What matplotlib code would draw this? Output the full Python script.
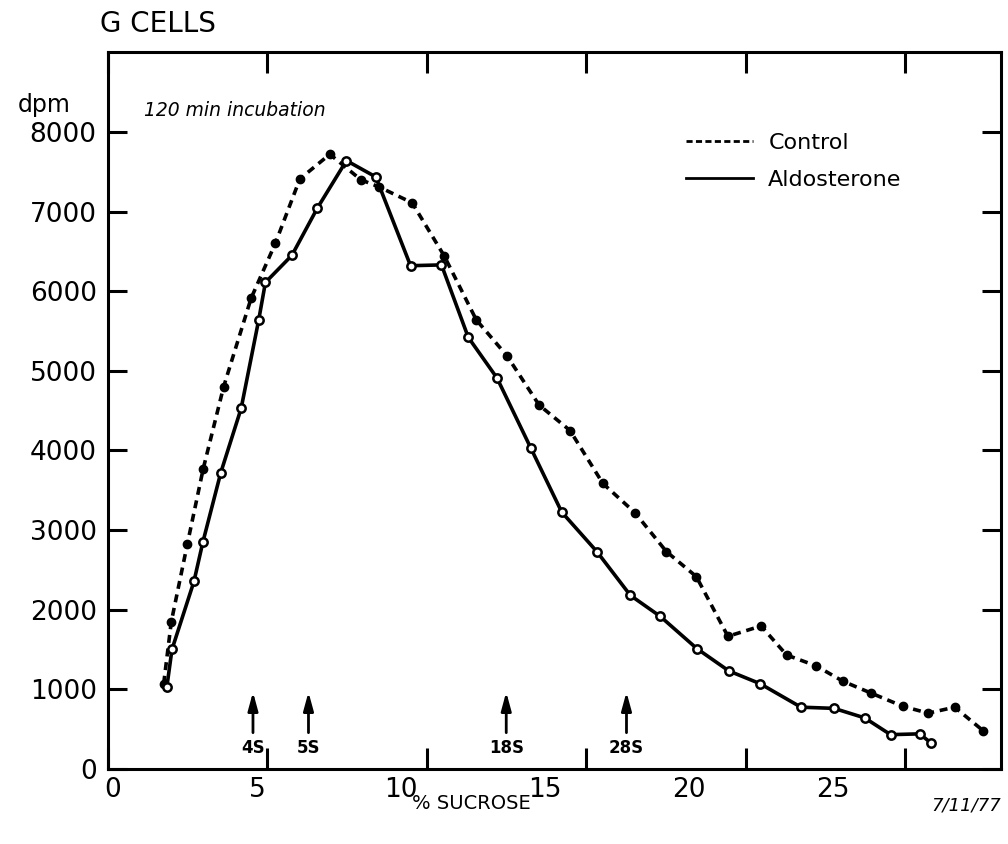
import numpy as np
import matplotlib
matplotlib.use("Agg")
import matplotlib.pyplot as plt
from matplotlib.lines import Line2D

# =========================
# DATA
# =========================
control_x = [1.75, 1.99, 2.49, 2.99, 3.63, 4.49, 5.25, 6.02, 6.96, 7.93, 8.50,
             9.54, 10.55, 11.55, 12.51, 13.52, 14.49, 15.52, 16.52, 17.51, 18.45,
             19.44, 20.48, 21.28, 22.20, 23.05, 23.94, 24.93, 25.72, 26.55, 27.44]
control_y = [1070, 1850, 2820, 3770, 4800, 5910, 6600, 7410, 7720, 7400, 7310,
             7110, 6440, 5640, 5190, 4570, 4250, 3585, 3220, 2730, 2415,
             1665, 1795, 1430, 1295, 1100, 950, 785, 700, 775, 480]

aldo_x = [1.85, 2.01, 2.70, 2.98, 3.54, 4.18, 4.73, 4.94, 5.77, 6.57, 7.48,
          8.40, 9.49, 10.46, 11.30, 12.20, 13.26, 14.23, 15.33, 16.38, 17.32,
          18.47, 19.47, 20.45, 21.73, 22.77, 23.73, 24.54, 25.45, 25.81]
aldo_y = [1030, 1500, 2355, 2850, 3720, 4530, 5640, 6110, 6450, 7045, 7640,
          7435, 6320, 6330, 5420, 4910, 4030, 3225, 2730, 2180, 1915,
          1510, 1230, 1070, 775, 760, 640, 430, 440, 325]

marker_names = ["4S", "5S", "18S", "28S"]
marker_x = [4.55, 6.29, 12.49, 16.26]

x_ticks = [0, 5, 10, 15, 20, 25]
y_ticks = [0, 1000, 2000, 3000, 4000, 5000, 6000, 7000, 8000]

# =========================
# FIGURE
# =========================
plt.rcParams['font.family'] = ['DejaVu Sans']
fig = plt.figure(figsize=(10.08, 8.44), dpi=100)
ax = fig.add_axes([0.107, 0.089, 0.886, 0.849])

ax.plot(control_x, control_y, color='black', lw=2.6, ls=(0, (2.2, 1.6)),
        marker='o', ms=6, mfc='black', mec='black')
ax.plot(aldo_x, aldo_y, color='black', lw=2.6, ls='-',
        marker='o', ms=6, mfc='white', mec='black', mew=1.8)

ax.set_xlim(0, 28)
ax.set_ylim(0, 9000)

for s in ax.spines.values():
    s.set_linewidth(2.2)

ax.set_xticks(x_ticks)
ax.set_xticklabels([])
ax.set_yticks(y_ticks)
ax.set_yticklabels([str(v) for v in y_ticks], fontsize=19)
ax.tick_params(direction='in', length=14, width=2.2, top=True, right=True, pad=8)
ax.tick_params(axis='x', length=15)

# tick labels were typed on a slightly narrower scale than the ticks
sec = ax.secondary_xaxis('bottom', functions=(lambda x: (x - 0.156) / 0.903,
                                              lambda v: 0.156 + 0.903 * v))
sec.set_xticks(x_ticks)
sec.set_xticklabels([str(v) for v in x_ticks], fontsize=19)
sec.tick_params(length=0, pad=6)
sec.spines['bottom'].set_visible(False)

# sedimentation markers
for name, xm in zip(marker_names, marker_x):
    ax.annotate('', xy=(xm, 1000), xytext=(xm, 420),
                arrowprops=dict(arrowstyle='-|>,head_width=0.3,head_length=1.1',
                                color='black', lw=2))
    ax.text(xm, 265, name, ha='center', va='center', fontsize=12, fontweight='bold')

# texts
fig.text(0.099, 0.972, "G CELLS", fontsize=20, ha='left', va='center')
fig.text(0.018, 0.876, "dpm", fontsize=17, ha='left', va='center')
ax.text(0.04, 0.919, "120 min incubation", transform=ax.transAxes,
        fontsize=13.5, style='italic', ha='left', va='center')
fig.text(0.468, 0.048, "% SUCROSE", fontsize=14, ha='center', va='center')
fig.text(0.993, 0.046, "7/11/77", fontsize=13, style='italic', ha='right', va='center')

handles = [Line2D([], [], color='black', lw=2, ls=(0, (2.2, 1.2))),
           Line2D([], [], color='black', lw=2, ls='-')]
ax.legend(handles, ["Control", "Aldosterone"], loc='upper left',
          bbox_to_anchor=(0.625, 0.915), frameon=False, fontsize=16,
          handlelength=3.0, handletextpad=0.7, labelspacing=0.75)

fig.savefig("out.png", dpi=100)
